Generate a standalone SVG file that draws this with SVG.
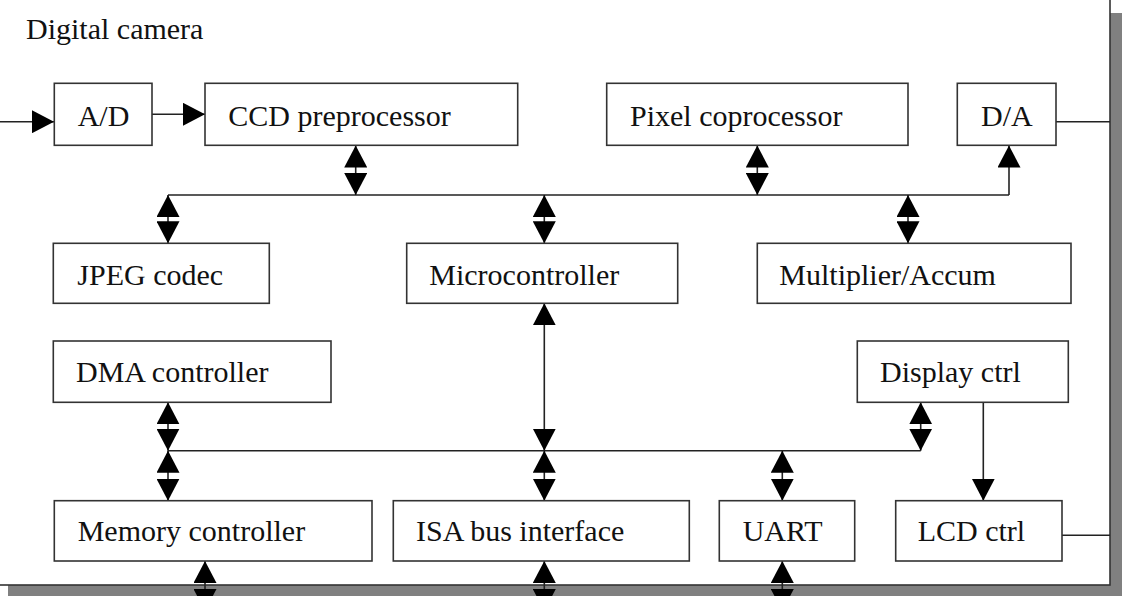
<svg xmlns="http://www.w3.org/2000/svg" width="1122" height="596" viewBox="0 0 1122 596">
<defs>
<marker id="ah" markerUnits="userSpaceOnUse" markerWidth="22" markerHeight="23" refX="22" refY="11.5" orient="auto-start-reverse" viewBox="0 0 22 23">
<path d="M0,0 L22,11.5 L0,23 z" fill="#000"/>
</marker>
<style>
.box{fill:#fff;stroke:#333;stroke-width:1.6}
.t{font-family:"Liberation Serif","Times New Roman",serif;font-size:30px;fill:#111}
.c{stroke:#222;stroke-width:1.6;fill:none}
.d{stroke:#222;stroke-width:1.6;fill:none;marker-start:url(#ah);marker-end:url(#ah)}
.s{stroke:#222;stroke-width:1.6;fill:none;marker-end:url(#ah)}
</style>
</defs>
<rect x="8" y="13" width="1130" height="600" fill="#808080"/>
<rect x="-20" y="-20" width="1130" height="605" fill="#fff" stroke="#333" stroke-width="1.6"/>
<text class="t" x="26" y="39">Digital camera</text>

<g id="connectors">
<line class="s" x1="0" y1="121.7" x2="54" y2="121.7"/>
<line class="s" x1="152" y1="114.3" x2="205" y2="114.3"/>
<line class="c" x1="1056" y1="121.7" x2="1110" y2="121.7"/>
<line class="c" x1="1058" y1="535.3" x2="1110" y2="535.3"/>
<line class="c" x1="168" y1="195" x2="1009" y2="195"/>
<line class="s" x1="1009" y1="195" x2="1009" y2="145.5"/>
<line class="d" x1="355.7" y1="145.5" x2="355.7" y2="195"/>
<line class="d" x1="757.3" y1="145.5" x2="757.3" y2="195"/>
<line class="d" x1="168" y1="195" x2="168" y2="243.3"/>
<line class="d" x1="544.3" y1="195" x2="544.3" y2="243.3"/>
<line class="d" x1="908" y1="195" x2="908" y2="243.3"/>
<line class="c" x1="168" y1="450.7" x2="920.7" y2="450.7"/>
<line class="d" x1="168" y1="402.3" x2="168" y2="450.7"/>
<line class="d" x1="168" y1="450.7" x2="168" y2="500.7"/>
<line class="d" x1="544.3" y1="303.3" x2="544.3" y2="450.7"/>
<line class="d" x1="544.3" y1="450.7" x2="544.3" y2="500.7"/>
<line class="d" x1="782.3" y1="450.7" x2="782.3" y2="500.7"/>
<line class="d" x1="920.7" y1="402.3" x2="920.7" y2="450.7"/>
<line class="s" x1="983.3" y1="402.3" x2="983.3" y2="500.7"/>
<line class="d" x1="205" y1="561" x2="205" y2="611"/>
<line class="d" x1="544.3" y1="561" x2="544.3" y2="611"/>
<line class="d" x1="782.3" y1="561" x2="782.3" y2="611"/>
</g>

<g id="ad"><rect class="box" x="54.3" y="83.3" width="97.7" height="62"/><text class="t" x="77.7" y="126">A/D</text></g>
<g id="ccd"><rect class="box" x="205" y="83.3" width="312.7" height="62"/><text class="t" x="228.3" y="126">CCD preprocessor</text></g>
<g id="pixel"><rect class="box" x="606.7" y="83.3" width="301.3" height="62"/><text class="t" x="630" y="126">Pixel coprocessor</text></g>
<g id="da"><rect class="box" x="957.3" y="83.3" width="98.7" height="62"/><text class="t" x="981" y="126">D/A</text></g>
<g id="jpeg"><rect class="box" x="53.3" y="243.3" width="216" height="60"/><text class="t" x="77.3" y="285">JPEG codec</text></g>
<g id="micro"><rect class="box" x="406.7" y="243.3" width="271" height="60"/><text class="t" x="429.3" y="285">Microcontroller</text></g>
<g id="mult"><rect class="box" x="757.3" y="243.3" width="313.7" height="60"/><text class="t" x="779.3" y="285">Multiplier/Accum</text></g>
<g id="dma"><rect class="box" x="53.3" y="341" width="277.7" height="61.3"/><text class="t" x="76" y="382.3">DMA controller</text></g>
<g id="display"><rect class="box" x="857.3" y="341" width="211" height="61.3"/><text class="t" x="880" y="382.3">Display ctrl</text></g>
<g id="mem"><rect class="box" x="54.3" y="500.7" width="317.7" height="60.3"/><text class="t" x="77.7" y="541">Memory controller</text></g>
<g id="isa"><rect class="box" x="393.3" y="500.7" width="296" height="60.3"/><text class="t" x="416" y="541">ISA bus interface</text></g>
<g id="uart"><rect class="box" x="719.3" y="500.7" width="135.4" height="60.3"/><text class="t" x="742.7" y="541">UART</text></g>
<g id="lcd"><rect class="box" x="895.7" y="500.7" width="166.3" height="60.3"/><text class="t" x="917.7" y="541">LCD ctrl</text></g>
</svg>
